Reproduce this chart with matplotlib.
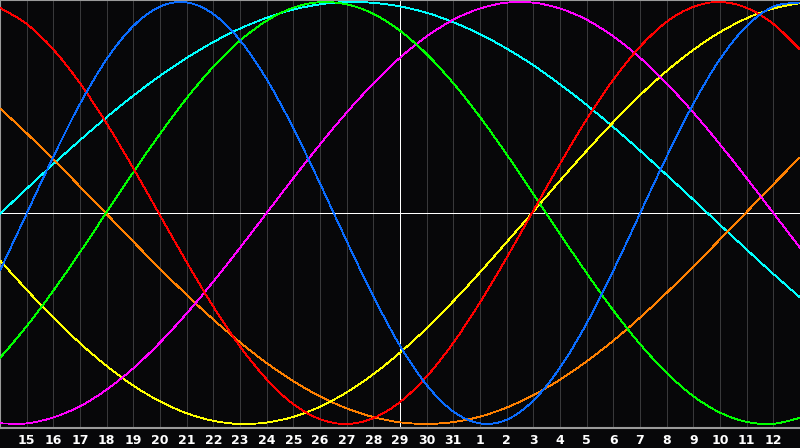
import matplotlib
matplotlib.use("Agg")
import matplotlib.pyplot as plt
from matplotlib.path import Path
from matplotlib.patches import PathPatch

# day labels along the bottom (first and last day sit on the frame edges)
days = [14, 15, 16, 17, 18, 19, 20, 21, 22, 23, 24, 25, 26, 27, 28, 29, 30, 31,
        1, 2, 3, 4, 5, 6, 7, 8, 9, 10, 11, 12, 13]

# cycle values per day (-1 .. 1)
blue = [-0.273, -0.003, 0.267, 0.517, 0.729, 0.886, 0.978, 0.998, 0.943, 0.819, 0.634,
        0.402, 0.140, -0.133, -0.395, -0.629, -0.815, -0.941, -0.997, -0.980, -0.889,
        -0.733, -0.523, -0.273, -0.003, 0.267, 0.517, 0.729, 0.886, 0.978, 0.998]
red = [0.972, 0.896, 0.775, 0.615, 0.424, 0.212, -0.011, -0.233, -0.444, -0.632, -0.788,
       -0.906, -0.977, -1.000, -0.972, -0.896, -0.775, -0.615, -0.424, -0.212, 0.011,
       0.233, 0.444, 0.632, 0.788, 0.906, 0.977, 1.000, 0.972, 0.896, 0.775]
green = [-0.687, -0.537, -0.368, -0.186, 0.004, 0.193, 0.375, 0.544, 0.693, 0.817, 0.911,
         0.973, 0.999, 0.989, 0.944, 0.864, 0.753, 0.615, 0.455, 0.278, 0.091, -0.099,
         -0.285, -0.462, -0.621, -0.758, -0.868, -0.946, -0.990, -0.999, -0.971]
magenta = [-0.997, -0.997, -0.969, -0.916, -0.837, -0.736, -0.614, -0.476, -0.325, -0.165,
           0.000, 0.165, 0.325, 0.476, 0.614, 0.736, 0.837, 0.916, 0.969, 0.997, 0.997,
           0.969, 0.916, 0.837, 0.736, 0.614, 0.476, 0.325, 0.165, 0.000, -0.165]
yellow = [-0.225, -0.364, -0.496, -0.617, -0.725, -0.818, -0.893, -0.949, -0.985, -1.000,
          -0.993, -0.966, -0.918, -0.850, -0.764, -0.662, -0.546, -0.418, -0.281, -0.138,
          0.007, 0.153, 0.295, 0.431, 0.558, 0.673, 0.773, 0.857, 0.923, 0.969, 0.995]
orange = [0.496, 0.378, 0.254, 0.125, -0.005, -0.136, -0.264, -0.388, -0.505, -0.613,
          -0.711, -0.797, -0.869, -0.926, -0.967, -0.992, -1.000, -0.991, -0.965, -0.922,
          -0.863, -0.790, -0.703, -0.605, -0.496, -0.378, -0.254, -0.125, 0.005, 0.136, 0.264]
cyan = [-0.004, 0.115, 0.232, 0.345, 0.454, 0.556, 0.650, 0.735, 0.810, 0.874, 0.925,
        0.964, 0.989, 1.000, 0.996, 0.979, 0.949, 0.904, 0.848, 0.779, 0.700, 0.610,
        0.512, 0.407, 0.296, 0.180, 0.063, -0.056, -0.173, -0.289, -0.400]

series = [(cyan, '#00ffff'), (orange, '#ff8000'), (yellow, '#ffff00'),
          (magenta, '#ff00ff'), (green, '#00ff00'), (red, '#ff0000'), (blue, '#0a6cff')]


def smooth_path(xs, ys):
    # catmull-rom through the daily readings, drawn as cubic bezier segments
    verts = [(xs[0], ys[0])]
    codes = [Path.MOVETO]
    n = len(xs)
    for i in range(n - 1):
        x0, y0 = (xs[i - 1], ys[i - 1]) if i > 0 else (xs[i], ys[i])
        x1, y1 = xs[i], ys[i]
        x2, y2 = xs[i + 1], ys[i + 1]
        x3, y3 = (xs[i + 2], ys[i + 2]) if i + 2 < n else (x2, y2)
        verts += [(x1 + (x2 - x0) / 6, y1 + (y2 - y0) / 6),
                  (x2 - (x3 - x1) / 6, y2 - (y3 - y1) / 6),
                  (x2, y2)]
        codes += [Path.CURVE4] * 3
    return Path(verts, codes)


bg = '#070709'
lw = 0.6
fig = plt.figure(figsize=(8, 4.48), dpi=100, facecolor=bg)
ax = fig.add_axes([0, 20 / 448, 1, 428 / 448])
ax.set_facecolor(bg)

x = list(range(len(days)))
for k in x:
    ax.axvline(k, color='#38383a', lw=lw, antialiased=False, zorder=1)

ax.axhline(0, color='white', lw=lw, antialiased=False, zorder=2)
ax.axvline(days.index(29), color='white', lw=lw, antialiased=False, zorder=2)

for vals, col in series:
    ax.add_patch(PathPatch(smooth_path(x, vals), facecolor='none', edgecolor=col,
                           lw=lw, antialiased=False, zorder=3))

ax.set_xlim(0, len(days) - 1)
ax.set_ylim(-1.019, 1.0095)
ax.set_yticks([])
ax.set_xticks(x[1:-1])
ax.set_xticklabels([str(d) for d in days[1:-1]])
ax.tick_params(axis='x', length=0, pad=4, colors='white', labelsize=9)
for lbl in ax.get_xticklabels():
    lbl.set_fontweight('bold')

for side in ['left', 'top', 'bottom']:
    ax.spines[side].set_color('#9a9a9a')
    ax.spines[side].set_linewidth(1.5)
ax.spines['right'].set_visible(False)

fig.savefig('out.png', dpi=100, facecolor=bg)
